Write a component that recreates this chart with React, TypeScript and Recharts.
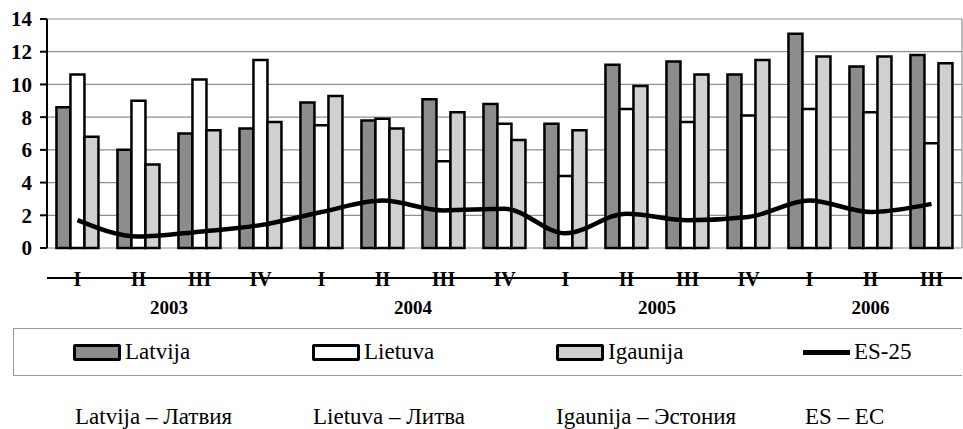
import React from 'react';
import {
  ComposedChart,
  Bar,
  Line,
  XAxis,
  YAxis,
  CartesianGrid,
  Legend,
  ReferenceLine,
} from 'recharts';

const quarters = ['I', 'II', 'III', 'IV', 'I', 'II', 'III', 'IV', 'I', 'II', 'III', 'IV', 'I', 'II', 'III'];
const years = ['2003', '2004', '2005', '2006'];
const quartersPerYear = [4, 4, 4, 3];

const latvija = [8.6, 6.0, 7.0, 7.3, 8.9, 7.8, 9.1, 8.8, 7.6, 11.2, 11.4, 10.6, 13.1, 11.1, 11.8];
const lietuva = [10.6, 9.0, 10.3, 11.5, 7.5, 7.9, 5.3, 7.6, 4.4, 8.5, 7.7, 8.1, 8.5, 8.3, 6.4];
const igaunija = [6.8, 5.1, 7.2, 7.7, 9.3, 7.3, 8.3, 6.6, 7.2, 9.9, 10.6, 11.5, 11.7, 11.7, 11.3];
const es25 = [1.7, 0.7, 1.0, 1.4, 2.2, 2.9, 2.3, 2.4, 0.9, 2.1, 1.7, 1.9, 2.9, 2.2, 2.7];

const seriesNames = ['Latvija', 'Lietuva', 'Igaunija', 'ES-25'];
const yTicks = [0, 2, 4, 6, 8, 10, 12, 14];
const notes = ['Latvija – Латвия', 'Lietuva – Литва', 'Igaunija – Эстония', 'ES – EC'];

// each quarter sits in the middle of a unit slot on a 0..15 number axis
const data = quarters.map((q, i) => ({
  pos: i + 0.5,
  quarter: q,
  latvija: latvija[i],
  lietuva: lietuva[i],
  igaunija: igaunija[i],
  es25: es25[i],
}));

const quarterTicks = data.map((d) => d.pos);
const boundaryTicks = [0, ...quarters.map((_, i) => i + 1)];
const yearTicks = quartersPerYear.map(
  (n, k) => quartersPerYear.slice(0, k).reduce((a, b) => a + b, 0) + n / 2
);

const serif = "'Liberation Serif', 'DejaVu Serif', serif";
const itemWidths = [239, 244, 247, 120];

const LegendBox = ({ payload }: { payload?: any[] }) => {
  const items = [...(payload || [])].sort(
    (a, b) => seriesNames.indexOf(a.value) - seriesNames.indexOf(b.value)
  );
  return (
    <div style={{ height: 60, paddingTop: 12, boxSizing: 'border-box' }}>
      <div
        style={{
          marginLeft: 13,
          height: 48,
          boxSizing: 'border-box',
          borderTop: '1.5px solid #999',
          borderBottom: '1.5px solid #999',
          borderLeft: '1.5px solid #999',
          display: 'flex',
          alignItems: 'center',
          paddingLeft: 59,
          fontSize: 23,
          fontFamily: serif,
          color: '#000',
        }}
      >
        {items.map((entry, i) => (
          <div key={entry.value} style={{ width: itemWidths[i], display: 'flex', alignItems: 'center' }}>
            {entry.type === 'line' ? (
              <span style={{ display: 'inline-block', width: 47, height: 5, background: '#000' }} />
            ) : (
              <span
                style={{
                  display: 'inline-block',
                  width: 48,
                  height: 17,
                  boxSizing: 'border-box',
                  border: '3px solid #000',
                  borderRadius: 2,
                  background: entry.color,
                }}
              />
            )}
            <span style={{ marginLeft: 4 }}>{entry.value}</span>
          </div>
        ))}
      </div>
    </div>
  );
};

export default function App() {
  return (
    <div style={{ position: 'absolute', left: 0, top: 0, width: 963, height: 429, background: '#fff', fontFamily: serif }}>
      <ComposedChart
        width={963}
        height={376}
        data={data}
        margin={{ top: 19, right: 1, left: 0, bottom: 0 }}
        barCategoryGap="15.5%"
        barGap={0}
        style={{ fontFamily: serif }}
      >
        <CartesianGrid xAxisId="q" vertical={false} stroke="#8f8f8f" strokeWidth={1.2} />
        <XAxis
          xAxisId="ticks"
          type="number"
          dataKey="pos"
          domain={[0, 15]}
          allowDataOverflow
          ticks={boundaryTicks}
          tick={false}
          tickSize={7}
          height={8}
          axisLine={{ stroke: '#000', strokeWidth: 2 }}
          tickLine={{ stroke: '#000', strokeWidth: 2 }}
        />
        <XAxis
          xAxisId="q"
          type="number"
          dataKey="pos"
          domain={[0, 15]}
          allowDataOverflow
          ticks={quarterTicks}
          interval={0}
          tickFormatter={(v: number) => quarters[Math.floor(v)]}
          tick={{ fill: '#000', fontSize: 20, fontWeight: 'bold', fontFamily: serif }}
          tickSize={6}
          tickMargin={18}
          height={30}
          axisLine={false}
          tickLine={false}
        />
        <XAxis
          xAxisId="y"
          type="number"
          dataKey="pos"
          domain={[0, 15]}
          allowDataOverflow
          ticks={yearTicks}
          interval={0}
          tickFormatter={(_v: number, i: number) => years[i]}
          tick={{ fill: '#000', fontSize: 19, fontWeight: 'bold', fontFamily: serif }}
          tickSize={6}
          tickMargin={9}
          height={30}
          axisLine={false}
          tickLine={false}
        />
        <YAxis
          domain={[0, 14]}
          ticks={yTicks}
          interval={0}
          width={47}
          tick={{ fill: '#000', fontSize: 21, fontWeight: 'bold', fontFamily: serif }}
          tickSize={7}
          tickMargin={8}
          axisLine={{ stroke: '#000', strokeWidth: 2 }}
          tickLine={{ stroke: '#000', strokeWidth: 2 }}
        />
        <ReferenceLine xAxisId="q" x={15} stroke="#8f8f8f" strokeWidth={1.2} />
        <Bar xAxisId="q" dataKey="latvija" name="Latvija" fill="#8c8c8c" stroke="#000" strokeWidth={2.5} isAnimationActive={false} />
        <Bar xAxisId="q" dataKey="lietuva" name="Lietuva" fill="#ffffff" stroke="#000" strokeWidth={2.5} isAnimationActive={false} />
        <Bar xAxisId="q" dataKey="igaunija" name="Igaunija" fill="#d0d0d0" stroke="#000" strokeWidth={2.5} isAnimationActive={false} />
        <Line
          xAxisId="q"
          type="monotone"
          dataKey="es25"
          name="ES-25"
          stroke="#000"
          strokeWidth={4.5}
          dot={false}
          activeDot={false}
          isAnimationActive={false}
        />
        <Legend verticalAlign="bottom" content={<LegendBox />} />
      </ComposedChart>
      <div style={{ position: 'absolute', top: 405, left: 0, width: 963, height: 24, fontSize: 23, lineHeight: '24px', color: '#000', fontFamily: serif }}>
        {notes.map((n, i) => (
          <span key={n} style={{ position: 'absolute', left: [75, 313, 556, 805][i], whiteSpace: 'nowrap' }}>
            {n}
          </span>
        ))}
      </div>
    </div>
  );
}
